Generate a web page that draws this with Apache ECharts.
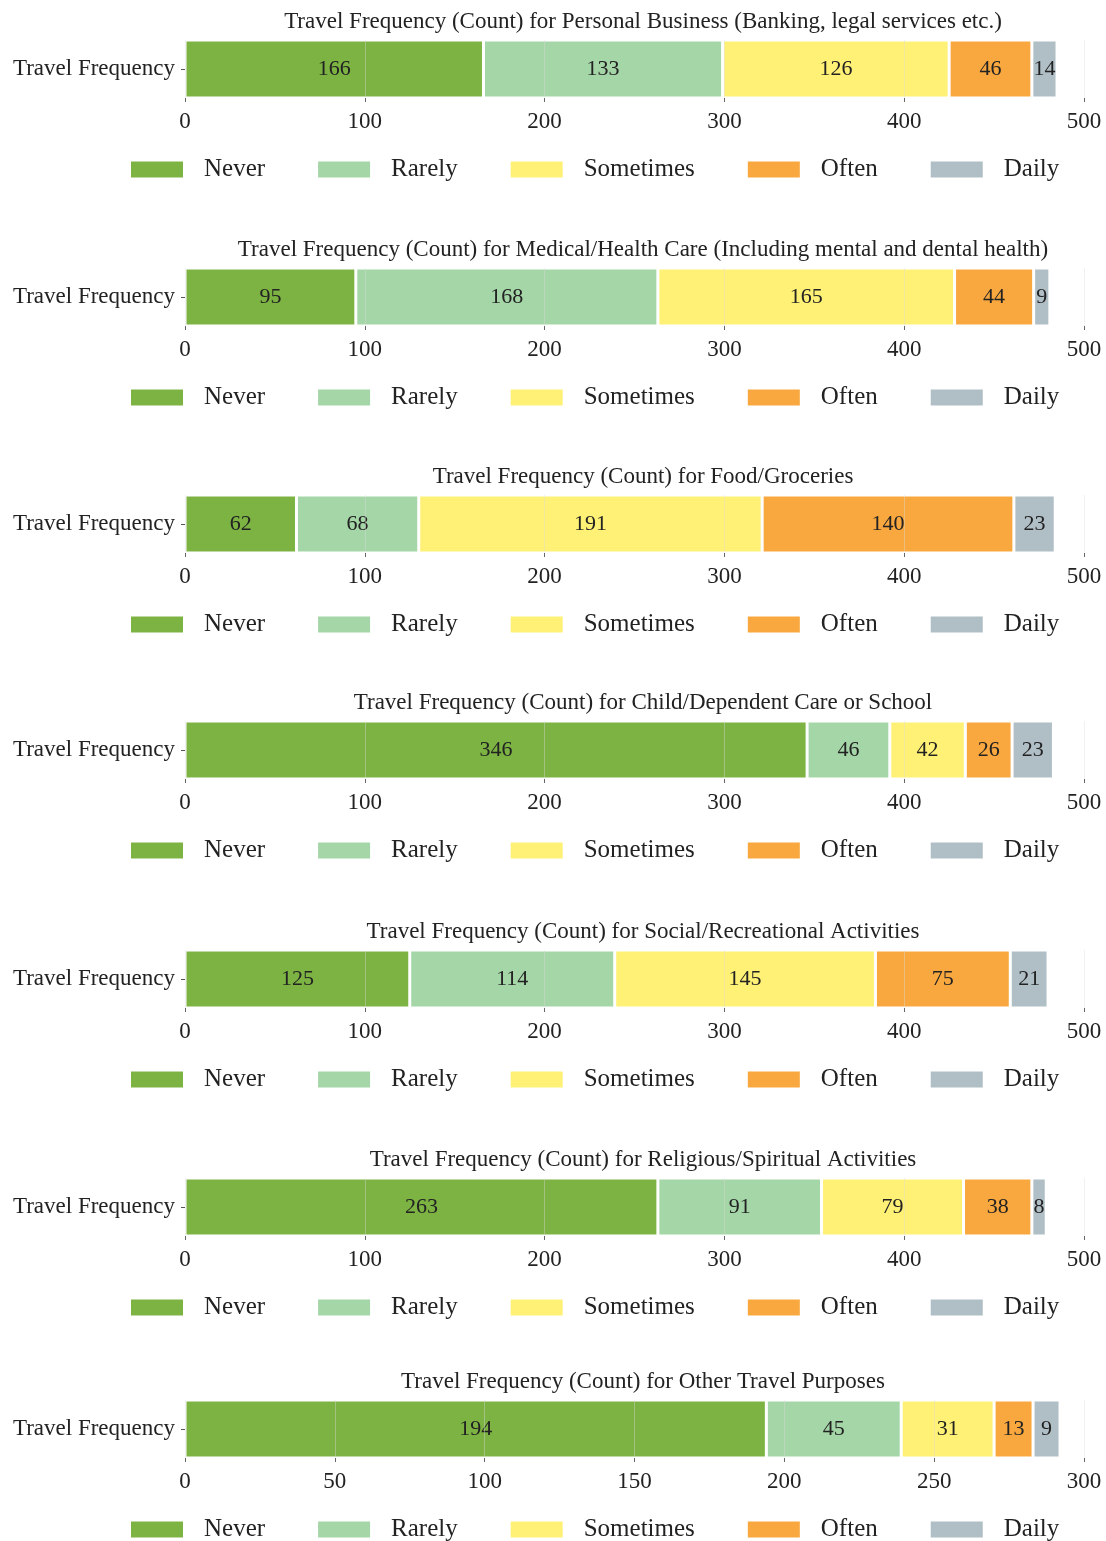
<!DOCTYPE html>
<html><head><meta charset="utf-8">
<script src="https://cdn.jsdelivr.net/npm/echarts@6/dist/echarts.min.js"></script>
<style>html,body{margin:0;padding:0;background:#fff}#c{width:1106px;height:1541px}</style>
</head><body><div id="c"></div>
<script>
const categories = ['Never','Rarely','Sometimes','Often','Daily'];
const colors = ['#7cb342','#a5d6a7','#fff176','#f9a83f','#b0bec5'];
const titles = [
  'Travel Frequency (Count) for Personal Business (Banking, legal services etc.)',
  'Travel Frequency (Count) for Medical/Health Care (Including mental and dental health)',
  'Travel Frequency (Count) for Food/Groceries',
  'Travel Frequency (Count) for Child/Dependent Care or School',
  'Travel Frequency (Count) for Social/Recreational Activities',
  'Travel Frequency (Count) for Religious/Spiritual Activities',
  'Travel Frequency (Count) for Other Travel Purposes'
];
const personalBusiness = [166,133,126,46,14];
const medical = [95,168,165,44,9];
const food = [62,68,191,140,23];
const childCare = [346,46,42,26,23];
const social = [125,114,145,75,21];
const religious = [263,91,79,38,8];
const other = [194,45,31,13,9];
const panelValues = [personalBusiness, medical, food, childCare, social, religious, other];
const axisMax = [500,500,500,500,500,500,300];
const axisInterval = [100,100,100,100,100,100,50];
const yLabel = 'Travel Frequency';

const FONT = "'Liberation Serif','Times New Roman',serif";
const barTops = [40,268,495,721,950,1178,1400];
const barH = 58;

const option = {
  animation:false,
  backgroundColor:'#fff',
  textStyle:{fontFamily:FONT},
  title:[], grid:[], xAxis:[], yAxis:[], legend:[], series:[]
};
panelValues.forEach((vals,p)=>{
  const top = barTops[p];
  option.title.push({text:titles[p], left:638, top:top-35, textAlign:'center',
    textStyle:{fontFamily:FONT,fontSize:23,fontWeight:'normal',color:'#222'}});
  option.grid.push({left:185, width:899, top:top, height:barH});
  option.xAxis.push({type:'value', gridIndex:p, min:0, max:axisMax[p], interval:axisInterval[p], z:3,
    axisLine:{show:false}, axisTick:{show:true,length:4,lineStyle:{color:'#666'}},
    axisLabel:{fontFamily:FONT,fontSize:23,color:'#222',margin:12},
    splitLine:{show:true,lineStyle:{color:'rgba(220,220,220,0.4)',width:1}}});
  option.yAxis.push({type:'category', gridIndex:p, data:[yLabel],
    axisLine:{show:false}, axisTick:{show:true,alignWithLabel:true,length:4,lineStyle:{color:'#555'}},
    axisLabel:{fontFamily:FONT,fontSize:23,color:'#222',margin:10}});
  option.legend.push({data:categories, left:124, top:top+128-16, itemWidth:54, itemHeight:18, itemGap:51,
    icon:'rect', textStyle:{fontFamily:FONT,fontSize:25,color:'#222',padding:[0,0,0,15]}});
  categories.forEach((c,i)=>{
    option.series.push({name:c, type:'bar', stack:'s'+p, xAxisIndex:p, yAxisIndex:p,
      barWidth:'100%', data:[vals[i]],
      itemStyle:{color:colors[i], borderColor:'#fff', borderWidth:1.5},
      label:{show:true, position:'inside', fontFamily:FONT, fontSize:22, color:'#222'}});
  });
});
const chart = echarts.init(document.getElementById('c'));
chart.setOption(option);
</script></body></html>
